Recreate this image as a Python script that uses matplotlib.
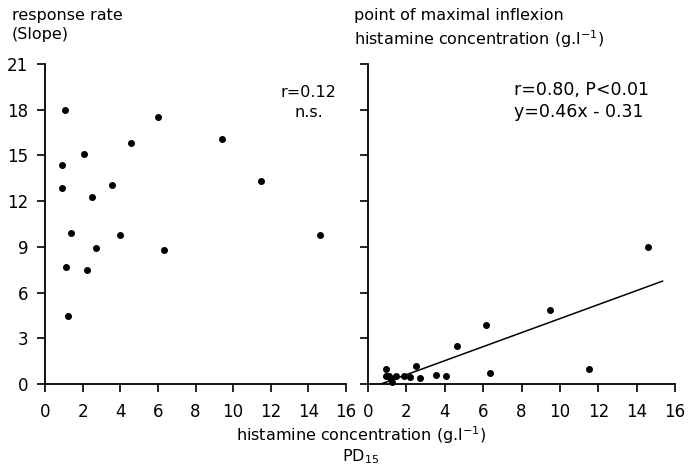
import numpy as np
import matplotlib.pyplot as plt

# PD15 histamine concentration (g/l) vs response slope
pd15_left = [1.06, 6.0, 9.4, 4.55, 2.07, 0.9, 3.55, 0.9, 11.5, 2.5,
             1.4, 4.0, 14.6, 1.1, 2.25, 2.7, 6.3, 1.2]
slope = [17.95, 17.5, 16.1, 15.8, 15.1, 14.4, 13.05, 12.85, 13.3, 12.3,
         9.9, 9.75, 9.8, 7.7, 7.45, 8.9, 8.8, 4.45]

# PD15 vs histamine concentration at point of maximal inflexion
pd15_right = [14.6, 9.48, 6.14, 4.64, 11.5, 6.38, 0.96, 0.96, 1.45, 1.9,
              2.17, 2.52, 2.73, 3.53, 4.05, 1.25, 1.1, 1.2]
inflexion = [9.0, 4.86, 3.85, 2.5, 1.0, 0.73, 0.97, 0.54, 0.52, 0.52,
             0.47, 1.16, 0.37, 0.58, 0.54, 0.15, 0.5, 0.3]

fit_slope, fit_icpt = 0.46, -0.31
fit_x = [0.68, 15.35]

xticks = list(range(0, 17, 2))
yticks = list(range(0, 22, 3))

plt.rcParams['font.family'] = 'DejaVu Sans'

fig = plt.figure(figsize=(6.89, 4.66), dpi=100)
W, H = 689, 466
ax1 = fig.add_axes([45 / W, 1 - 384 / H, 301 / W, 320 / H])
ax2 = fig.add_axes([368 / W, 1 - 384 / H, 307 / W, 320 / H])

for ax in (ax1, ax2):
    ax.set_xlim(0, 16)
    ax.set_ylim(0, 21)
    ax.set_xticks(xticks)
    ax.set_yticks(yticks)
    for s in ('top', 'right'):
        ax.spines[s].set_visible(False)
    for s in ('left', 'bottom'):
        ax.spines[s].set_linewidth(1.3)
    ax.tick_params(direction='out', length=6, width=1.2, labelsize=12)
    ax.tick_params(axis='x', pad=8)
    ax.tick_params(axis='y', pad=6)

ax2.tick_params(axis='y', labelleft=False)

ax1.scatter(pd15_left, slope, s=16, color='black', zorder=3, clip_on=False)
ax2.scatter(pd15_right, inflexion, s=16, color='black', zorder=3, clip_on=False)
fit_y = [fit_slope * x + fit_icpt for x in fit_x]
ax2.plot(fit_x, fit_y, color='black', lw=1.1)

ax1.text(15.5, 19.6, 'r=0.12\nn.s.', ha='right', va='top', fontsize=11.5,
         linespacing=1.35, multialignment='center')
ax2.text(7.6, 19.9, 'r=0.80, P<0.01\ny=0.46x - 0.31', ha='left', va='top',
         fontsize=12.5, linespacing=1.3)

fig.text(12 / W, 1 - 8 / H, 'response rate\n(Slope)', ha='left', va='top',
         fontsize=11.5, linespacing=1.3)
fig.text(354 / W, 1 - 8 / H,
         'point of maximal inflexion\nhistamine concentration (g.l$^{-1}$)',
         ha='left', va='top', fontsize=11.5, linespacing=1.3)
fig.text(361 / W, 1 - 435 / H, 'histamine concentration (g.l$^{-1}$)',
         ha='center', va='center', fontsize=11.5)
fig.text(361 / W, 1 - 457 / H, 'PD$_{15}$', ha='center', va='center',
         fontsize=11.5)

fig.savefig('out.png', dpi=100, facecolor='white')
